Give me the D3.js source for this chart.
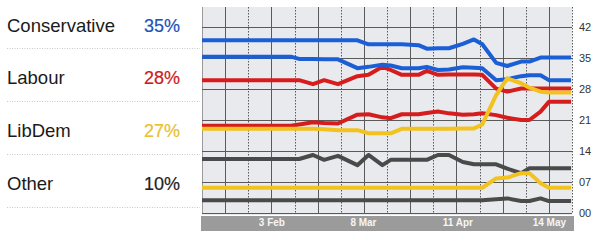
<!DOCTYPE html>
<html>
<head>
<meta charset="utf-8">
<script src="https://cdn.jsdelivr.net/npm/d3@7"></script>
<style>
  body { margin: 0; background: #fff; }
  svg { display: block; font-family: "Liberation Sans", Arial, sans-serif; }
</style>
</head>
<body>
<div id="chart"></div>
<script>
// legend
const parties = ["Conservative", "Labour", "LibDem", "Other"];
const shares = [35, 28, 27, 10];
const partyColors = ["#1a5fd6", "#d61d1d", "#f2c21f", "#4a4a4a"];
const shareColors = ["#2152b8", "#cc1b1b", "#e8c030", "#222222"];

// sample dates (2010)
const dates = ["2010-01-09", "2010-02-10", "2010-02-13", "2010-02-18", "2010-02-22", "2010-02-27",
  "2010-03-06", "2010-03-10", "2010-03-15", "2010-03-18", "2010-03-22", "2010-03-28",
  "2010-03-31", "2010-04-04", "2010-04-08", "2010-04-13", "2010-04-17", "2010-04-20",
  "2010-04-25", "2010-04-29", "2010-05-04", "2010-05-07", "2010-05-11", "2010-05-14", "2010-05-22"];

const conHigh = [39.0, 39.0, 39.0, 39.0, 39.0, 39.0, 39.0, 38.1, 38.1, 38.1, 38.1, 37.9, 37.1, 37.2, 37.2, 38.2, 39.2, 38.1, 33.9, 33.2, 34.2, 34.2, 35.1, 35.1, 35.1];
const conLow  = [35.3, 35.3, 34.8, 34.8, 34.7, 34.7, 32.7, 33.0, 33.5, 33.3, 32.7, 32.7, 33.0, 32.3, 32.4, 32.9, 32.8, 32.7, 30.0, 30.2, 30.9, 31.1, 31.1, 30.0, 30.0];
const labHigh = [30.0, 30.0, 30.0, 29.1, 30.0, 29.1, 30.9, 31.2, 33.0, 32.3, 31.2, 31.2, 32.1, 31.2, 31.3, 31.3, 31.3, 31.2, 28.1, 27.4, 28.1, 28.1, 28.1, 28.1, 28.1];
const labLow  = [19.7, 19.7, 20.0, 20.5, 20.3, 20.2, 22.2, 22.3, 21.6, 21.4, 22.3, 22.3, 22.6, 22.9, 22.5, 22.2, 22.3, 22.5, 22.1, 21.5, 21.0, 21.0, 22.9, 25.1, 25.1];
const libHigh = [19.0, 19.0, 19.0, 19.0, 18.9, 18.7, 18.7, 18.0, 18.0, 18.0, 19.0, 19.0, 19.0, 19.0, 19.0, 19.1, 19.1, 20.0, 26.6, 30.4, 29.3, 28.3, 27.4, 27.2, 27.2];
const libLow  = [5.7, 5.7, 5.7, 5.7, 5.7, 5.7, 5.7, 5.7, 5.7, 5.7, 5.7, 5.7, 5.7, 5.7, 5.7, 5.7, 5.7, 5.7, 7.8, 8.0, 9.0, 9.0, 6.7, 5.7, 5.7];
const othHigh = [12.2, 12.2, 12.2, 13.1, 12.0, 12.9, 10.8, 13.1, 10.8, 12.0, 12.0, 12.0, 12.0, 13.1, 13.1, 11.5, 11.0, 11.0, 11.0, 10.0, 9.0, 10.1, 10.1, 10.1, 10.1];
const othLow  = [2.9, 2.9, 2.9, 2.9, 2.9, 2.9, 2.9, 2.9, 2.9, 2.9, 2.9, 2.9, 2.9, 2.9, 2.9, 2.9, 2.9, 2.9, 3.1, 3.3, 2.7, 2.7, 3.3, 2.7, 2.7];

const tickDates = ["2010-02-03", "2010-03-08", "2010-04-11", "2010-05-14"];
const yTicks = [0, 7, 14, 21, 28, 35, 42];

// drawing order: gray, red, blue, yellow
const series = [
  { values: othHigh, color: partyColors[3] },
  { values: othLow, color: partyColors[3] },
  { values: labHigh, color: partyColors[1] },
  { values: labLow, color: partyColors[1] },
  { values: conHigh, color: partyColors[0] },
  { values: conLow, color: partyColors[0] },
  { values: libHigh, color: partyColors[2] },
  { values: libLow, color: partyColors[2] }
];

const W = 600, H = 241;
const plot = { left: 202, right: 572, top: 7, bottom: 215 };
const parse = d3.utcParse("%Y-%m-%d");

const svg = d3.select("#chart").append("svg")
  .attr("width", W)
  .attr("height", H);

const start = parse("2010-01-09");
const end = new Date(+start + (400 / 3) * 864e5);

const x = d3.scaleUtc()
  .domain([start, end])
  .range([plot.left, plot.right]);

const y = d3.scaleLinear()
  .domain([0, 42])
  .range([213, 27]);

// legend on the left
const rowY = [32, 84, 137, 190];
const sepY = [48, 101, 154, 207];

svg.selectAll(".sep")
  .data(sepY)
  .enter()
  .append("line")
  .attr("class", "sep")
  .attr("x1", 7).attr("x2", 200)
  .attr("y1", d => d + 0.5).attr("y2", d => d + 0.5)
  .attr("stroke", "#c8c8c8")
  .attr("stroke-dasharray", "1,1.5");

svg.selectAll(".party")
  .data(parties)
  .enter()
  .append("text")
  .attr("class", "party")
  .attr("x", 7)
  .attr("y", (d, i) => rowY[i])
  .style("font-size", "18.5px")
  .style("fill", "#1a1a1a")
  .text(d => d);

svg.selectAll(".share")
  .data(shares)
  .enter()
  .append("text")
  .attr("class", "share")
  .attr("x", 180)
  .attr("y", (d, i) => rowY[i])
  .attr("text-anchor", "end")
  .style("font-size", "18px")
  .style("fill", (d, i) => shareColors[i])
  .style("stroke", (d, i) => shareColors[i])
  .style("stroke-width", 0.2)
  .text(d => d + "%");

// plot background
svg.append("rect")
  .attr("x", plot.left)
  .attr("y", plot.top)
  .attr("width", plot.right - plot.left)
  .attr("height", plot.bottom - plot.top)
  .attr("fill", "#e9eaee");

// vertical grid: 16 cells, solid / dotted alternating
const grid = svg.append("g");
d3.range(17).forEach(i => {
  const gx = Math.round(plot.left + i * (plot.right - plot.left) / 16) + 0.5;
  grid.append("line")
    .attr("x1", gx).attr("x2", gx)
    .attr("y1", plot.top).attr("y2", 213)
    .attr("stroke", i === 0 ? "#9a9a9a" : "#5a5a5a")
    .attr("stroke-width", 1)
    .attr("stroke-dasharray", (i % 2 === 0 && i > 0) ? "1.5,1.5" : null);
});

// horizontal grid
grid.selectAll(".hgrid")
  .data(yTicks)
  .enter()
  .append("line")
  .attr("x1", plot.left).attr("x2", plot.right)
  .attr("y1", d => Math.round(y(d)) + 0.5)
  .attr("y2", d => Math.round(y(d)) + 0.5)
  .attr("stroke", "#5a5a5a")
  .attr("stroke-width", 1);

// lines
const line = d3.line()
  .x((d, i) => x(parse(dates[i])))
  .y(d => y(d));

svg.selectAll(".series")
  .data(series)
  .enter()
  .append("path")
  .attr("class", "series")
  .attr("d", d => line(d.values))
  .attr("fill", "none")
  .attr("stroke", d => d.color)
  .attr("stroke-width", 4)
  .attr("stroke-linejoin", "round");

// y axis on the right
svg.append("g")
  .attr("transform", `translate(${plot.right + 4}, 0)`)
  .call(d3.axisRight(y).tickValues(yTicks).tickFormat(d3.format("02d")).tickSize(0))
  .call(g => g.select(".domain").remove())
  .selectAll("text")
  .style("font-family", "Liberation Sans, Arial, sans-serif")
  .style("font-size", "11px")
  .style("fill", "#333");

// bottom band with dates
svg.append("rect")
  .attr("x", 201)
  .attr("y", 216)
  .attr("width", 373)
  .attr("height", 15)
  .attr("fill", "#9b9b9b");

svg.append("g")
  .attr("transform", "translate(0, 216)")
  .call(d3.axisBottom(x)
    .tickValues(tickDates.map(parse))
    .tickFormat(d3.utcFormat("%-d %b"))
    .tickSize(0)
    .tickPadding(3))
  .call(g => g.select(".domain").remove())
  .selectAll("text")
  .style("font-family", "Liberation Sans, Arial, sans-serif")
  .style("font-size", "10px")
  .style("font-weight", "bold")
  .style("fill", "#f6f6f6");
</script>
</body>
</html>
